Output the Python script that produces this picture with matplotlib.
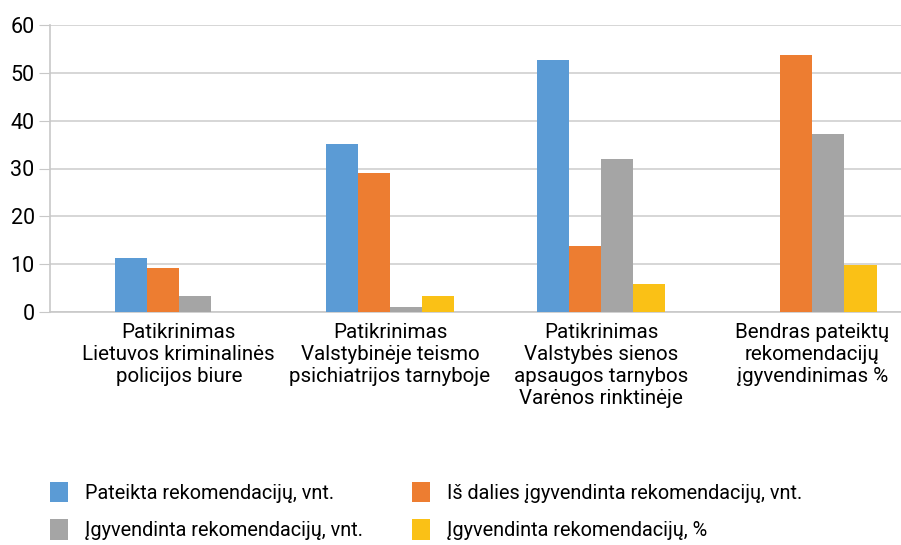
import numpy as np
import matplotlib.pyplot as plt

plt.rcParams['font.family'] = ['Roboto', 'DejaVu Sans']

categories = [
    "Patikrinimas\nLietuvos kriminalinės\npolicijos biure",
    "Patikrinimas\nValstybinėje teismo\npsichiatrijos tarnyboje",
    "Patikrinimas\nValstybės sienos\napsaugos tarnybos\nVarėnos rinktinėje",
    "Bendras pateiktų\nrekomendacijų\nįgyvendinimas %",
]
series_names = [
    "Pateikta rekomendacijų, vnt.",
    "Iš dalies įgyvendinta rekomendacijų, vnt.",
    "Įgyvendinta rekomendacijų, vnt.",
    "Įgyvendinta rekomendacijų, %",
]
pateikta = [11.3, 35.1, 52.7, 0]
is_dalies = [9.2, 29.0, 13.9, 53.8]
igyvendinta = [3.35, 1.1, 32.0, 37.3]
igyvendinta_proc = [0, 3.35, 5.9, 9.9]

colors = ['#5B9BD5', '#ED7D31', '#A5A5A5', '#FAC116']
series = [pateikta, is_dalies, igyvendinta, igyvendinta_proc]

fig = plt.figure(figsize=(9.01, 5.45), dpi=100)
ax = fig.add_axes([50 / 901, 1 - 312 / 545, 1 - 50 / 901, (312 - 25) / 545])

x = np.arange(len(categories))
w = 0.152
bars = []
for i, (vals, c) in enumerate(zip(series, colors)):
    b = ax.bar(x + (i - 1.5) * w, vals, w, color=c, zorder=3)
    bars.append(b)

ax.set_ylim(0, 60)
ax.set_xlim(-0.61, 3.42)
ax.set_yticks(range(0, 61, 10))
ax.yaxis.grid(True, color='#d0d0d0', lw=1.2, zorder=0)
for s in ['top', 'right']:
    ax.spines[s].set_visible(False)
ax.spines['left'].set_color('#c8c8c8')
ax.spines['left'].set_linewidth(1.2)
ax.spines['bottom'].set_color('#c8c8c8')
ax.spines['bottom'].set_linewidth(1.2)
ax.tick_params(axis='y', length=8, color='#c8c8c8', labelsize=15.5, pad=3)
ax.tick_params(axis='x', length=0, labelsize=14.8, pad=8)
ax.set_xticks(x)
ax.set_xticklabels(categories, linespacing=1.2)

order = [0, 2, 1, 3]
fig.legend([bars[i] for i in order], [series_names[i] for i in order],
           ncol=2, loc='center left', bbox_to_anchor=(50 / 901, 1 - 511 / 545),
           frameon=False, fontsize=14.3, handlelength=0.9, handleheight=1.2,
           handletextpad=0.85, columnspacing=2.5, labelspacing=0.85,
           borderpad=0, borderaxespad=0)

fig.savefig('out.png', dpi=100)
